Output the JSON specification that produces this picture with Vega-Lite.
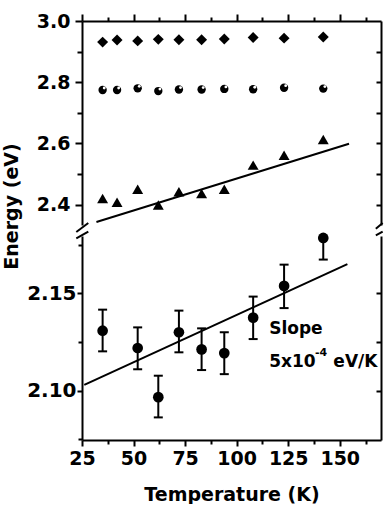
{
  "$schema": "https://vega.github.io/schema/vega-lite/v6.json",
  "padding": {"left": 2, "top": 12, "right": 0, "bottom": 0},
  "spacing": 11,
  "bounds": "flush",
  "config": {
    "view": {"stroke": null},
    "axis": {
      "grid": false,
      "labelFlush": false,
      "labelOverlap": false,
      "domainColor": "black",
      "domainWidth": 2,
      "tickColor": "black",
      "tickWidth": 2,
      "labelFont": "DejaVu Sans",
      "labelFontWeight": "bold",
      "labelFontSize": 19,
      "labelColor": "black",
      "titleFont": "DejaVu Sans",
      "titleFontWeight": "bold",
      "titleFontSize": 19,
      "titleColor": "black"
    }
  },
  "datasets": {
    "diamond": [
      {"T": 35, "E": 2.931}, {"T": 42, "E": 2.938}, {"T": 52, "E": 2.935}, {"T": 62, "E": 2.940},
      {"T": 72, "E": 2.939}, {"T": 83, "E": 2.939}, {"T": 94, "E": 2.941}, {"T": 108, "E": 2.946},
      {"T": 123, "E": 2.944}, {"T": 142, "E": 2.948}
    ],
    "halfcircle": [
      {"T": 35, "E": 2.7745}, {"T": 42, "E": 2.7745}, {"T": 52, "E": 2.780}, {"T": 62, "E": 2.771},
      {"T": 72, "E": 2.776}, {"T": 83, "E": 2.776}, {"T": 94, "E": 2.778}, {"T": 108, "E": 2.777},
      {"T": 123, "E": 2.782}, {"T": 142, "E": 2.779}
    ],
    "triangle": [
      {"T": 35, "E": 2.420}, {"T": 42, "E": 2.408}, {"T": 52, "E": 2.450}, {"T": 62, "E": 2.399},
      {"T": 72, "E": 2.442}, {"T": 83, "E": 2.436}, {"T": 94, "E": 2.450}, {"T": 108, "E": 2.529},
      {"T": 123, "E": 2.561}, {"T": 142, "E": 2.613}
    ],
    "fitTop": [{"T": 32, "E": 2.343}, {"T": 154.5, "E": 2.599}],
    "breaks": [
      {"T": 22.24, "T2": 28.05, "E": 2.3105, "E2": 2.3399},
      {"T": 22.24, "T2": 28.05, "E": 2.2892, "E2": 2.3114},
      {"T": 167.5, "T2": 170.8, "E": 2.3210, "E2": 2.3399},
      {"T": 167.5, "T2": 170.8, "E": 2.2990, "E2": 2.3114}
    ],
    "circle": [
      {"T": 35, "E": 2.1308, "lo": 2.1202, "hi": 2.1416},
      {"T": 52, "E": 2.1219, "lo": 2.1110, "hi": 2.1325},
      {"T": 62, "E": 2.0967, "lo": 2.0863, "hi": 2.1077},
      {"T": 72, "E": 2.1300, "lo": 2.1197, "hi": 2.1411},
      {"T": 83, "E": 2.1212, "lo": 2.1106, "hi": 2.1320},
      {"T": 94, "E": 2.1193, "lo": 2.1085, "hi": 2.1300},
      {"T": 108, "E": 2.1375, "lo": 2.1265, "hi": 2.1483},
      {"T": 123, "E": 2.1538, "lo": 2.1424, "hi": 2.1647},
      {"T": 142, "E": 2.1784, "lo": 2.1673, "hi": 2.1895}
    ],
    "fitBottom": [{"T": 26.1, "E": 2.103}, {"T": 153.7, "E": 2.165}],
    "notes": [
      {"T": 115.75, "E": 2.1291, "label": "Slope"},
      {"T": 115.75, "E": 2.1120, "label": "5x10"},
      {"T": 146.9, "E": 2.1120, "label": "eV/K"}
    ],
    "notesSup": [
      {"T": 138.0, "E": 2.1179, "label": "-4"}
    ]
  },
  "vconcat": [
    {
      "width": 299,
      "height": 204,
      "encoding": {
        "x": {
          "field": "T", "type": "quantitative",
          "scale": {"domain": [25, 170], "nice": false, "zero": false},
          "axis": {
            "orient": "top",
            "values": [25, 37.5, 50, 62.5, 75, 87.5, 100, 112.5, 125, 137.5, 150, 162.5],
            "labels": false,
            "title": null,
            "tickSize": {"condition": {"test": "datum.value % 25 === 0", "value": 7}, "value": 4}
          }
        }
      },
      "layer": [
        {
          "data": {"name": "diamond"},
          "mark": {"type": "point", "shape": "diamond", "filled": true, "color": "black", "size": 120, "opacity": 1},
          "encoding": {
            "y": {
              "field": "E", "type": "quantitative",
              "scale": {"domain": [2.3333, 3.0], "nice": false, "zero": false},
              "axis": {
                "orient": "left",
                "values": [2.4, 2.5, 2.6, 2.7, 2.8, 2.9, 3.0],
                "labelExpr": "round(datum.value*10) % 2 === 0 ? format(datum.value, '.1f') : ''",
                "tickSize": {"condition": {"test": "round(datum.value*10) % 2 === 0", "value": 7}, "value": 5},
                "labelPadding": 5,
                "title": "Energy (eV)",
                "titleX": -71,
                "titleY": 185,
                "titleAngle": 270,
                "titleAlign": "center",
                "titleBaseline": "middle"
              }
            }
          }
        },
        {
          "data": {"name": "halfcircle"},
          "mark": {"type": "circle", "color": "black", "size": 70, "opacity": 1},
          "encoding": {
            "y": {
              "field": "E", "type": "quantitative",
              "axis": {
                "orient": "right",
                "values": [2.4, 2.5, 2.6, 2.7, 2.8, 2.9],
                "labels": false,
                "tickSize": -5,
                "title": null
              }
            }
          }
        },
        {
          "data": {"name": "halfcircle"},
          "mark": {"type": "circle", "color": "white", "size": 8, "xOffset": 1.6, "yOffset": -2, "opacity": 1},
          "encoding": {"y": {"field": "E", "type": "quantitative", "axis": null}}
        },
        {
          "data": {"name": "triangle"},
          "mark": {"type": "point", "shape": "triangle-up", "filled": true, "color": "black", "size": 120, "opacity": 1},
          "encoding": {"y": {"field": "E", "type": "quantitative", "axis": null}}
        },
        {
          "data": {"name": "fitTop"},
          "mark": {"type": "line", "color": "black", "strokeWidth": 2},
          "encoding": {"y": {"field": "E", "type": "quantitative", "axis": null}}
        },
        {
          "data": {"name": "breaks"},
          "mark": {"type": "rule", "color": "black", "strokeWidth": 2},
          "encoding": {
            "x": {"field": "T", "type": "quantitative"},
            "x2": {"field": "T2"},
            "y": {"field": "E", "type": "quantitative", "axis": null},
            "y2": {"field": "E2"}
          }
        }
      ],
      "resolve": {"axis": {"y": "independent"}}
    },
    {
      "width": 299,
      "height": 204,
      "encoding": {
        "x": {
          "field": "T", "type": "quantitative",
          "scale": {"domain": [25, 170], "nice": false, "zero": false},
          "axis": {
            "orient": "bottom",
            "values": [25, 37.5, 50, 62.5, 75, 87.5, 100, 112.5, 125, 137.5, 150, 162.5],
            "labelExpr": "datum.value % 25 === 0 ? format(datum.value, 'd') : ''",
            "tickSize": {"condition": {"test": "datum.value % 25 === 0", "value": 6}, "value": 4},
            "labelPadding": 3,
            "title": "Temperature (K)",
            "titlePadding": 17
          }
        }
      },
      "layer": [
        {
          "data": {"name": "circle"},
          "mark": {"type": "rule", "color": "black", "strokeWidth": 2, "clip": true},
          "encoding": {
            "y": {
              "field": "lo", "type": "quantitative",
              "scale": {"domain": [2.0747, 2.1794], "nice": false, "zero": false},
              "axis": {
                "orient": "left",
                "values": [2.075, 2.1, 2.125, 2.15, 2.175],
                "labelExpr": "round(datum.value*1000) % 50 === 0 ? format(datum.value, '.2f') : ''",
                "tickSize": {"condition": {"test": "round(datum.value*1000) % 50 === 0", "value": 5}, "value": 4},
                "labelPadding": 1,
                "labelFontSize": 20,
                "title": null
              }
            },
            "y2": {"field": "hi"}
          }
        },
        {
          "data": {"name": "circle"},
          "mark": {"type": "tick", "orient": "horizontal", "color": "black", "size": 9, "thickness": 2, "clip": true, "opacity": 1},
          "encoding": {
            "y": {
              "field": "lo", "type": "quantitative",
              "axis": {
                "orient": "right",
                "values": [2.1, 2.125, 2.15],
                "labels": false,
                "tickSize": -5,
                "title": null
              }
            }
          }
        },
        {
          "data": {"name": "circle"},
          "mark": {"type": "tick", "orient": "horizontal", "color": "black", "size": 9, "thickness": 2, "clip": true, "opacity": 1},
          "encoding": {"y": {"field": "hi", "type": "quantitative", "axis": null}}
        },
        {
          "data": {"name": "circle"},
          "mark": {"type": "circle", "color": "black", "size": 114, "opacity": 1},
          "encoding": {"y": {"field": "E", "type": "quantitative", "axis": null}}
        },
        {
          "data": {"name": "fitBottom"},
          "mark": {"type": "line", "color": "black", "strokeWidth": 2},
          "encoding": {"y": {"field": "E", "type": "quantitative", "axis": null}}
        },
        {
          "data": {"name": "notes"},
          "mark": {"type": "text", "align": "left", "baseline": "alphabetic", "font": "DejaVu Sans", "fontWeight": "bold", "fontSize": 17, "color": "black"},
          "encoding": {
            "y": {"field": "E", "type": "quantitative", "axis": null},
            "text": {"field": "label"}
          }
        },
        {
          "data": {"name": "notesSup"},
          "mark": {"type": "text", "align": "left", "baseline": "alphabetic", "font": "DejaVu Sans", "fontWeight": "bold", "fontSize": 11, "color": "black"},
          "encoding": {
            "y": {"field": "E", "type": "quantitative", "axis": null},
            "text": {"field": "label"}
          }
        }
      ],
      "resolve": {"axis": {"y": "independent"}}
    }
  ]
}
